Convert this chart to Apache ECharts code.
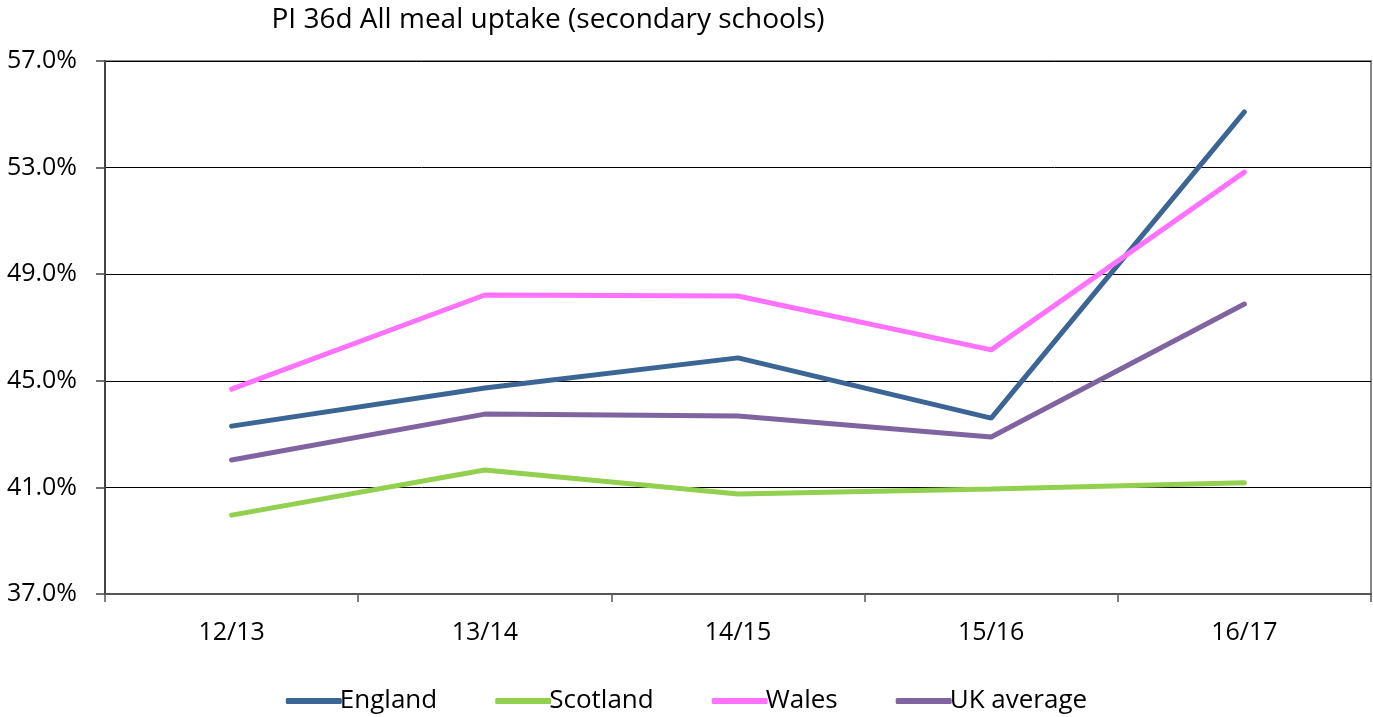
<!DOCTYPE html>
<html><head><meta charset="utf-8">
<script src="https://cdn.jsdelivr.net/npm/echarts@6/dist/echarts.min.js"></script>
<style>html,body{margin:0;padding:0;background:#fff}#c{width:1373px;height:717px}</style>
</head><body><div id="c"></div>
<script>
const categories = ['12/13','13/14','14/15','15/16','16/17'];
const england = [43.3, 44.73, 45.86, 43.6, 55.09];
const scotland = [39.96, 41.65, 40.75, 40.94, 41.17];
const wales = [44.69, 48.22, 48.18, 46.16, 52.83];
const ukAverage = [42.03, 43.75, 43.68, 42.89, 47.88];
const seriesNames = ['England','Scotland','Wales','UK average'];
const colors = ['#3A6595','#92D050','#FF71FF','#8064A2'];
const font = '"Open Sans", "Noto Sans", sans-serif';
const chart = echarts.init(document.getElementById('c'));
const data = [england, scotland, wales, ukAverage];
chart.setOption({
  animation: false,
  title: { text: 'PI 36d All meal uptake (secondary schools)', left: 543, top: 1, textAlign: 'center',
    textStyle: { fontFamily: font, fontSize: 28, fontWeight: 'normal', color: '#000' } },
  legend: { bottom: -2, left: 'center', itemGap: 58, itemWidth: 56, itemHeight: 6,
    icon: 'roundRect',
    textStyle: { fontFamily: font, fontSize: 26, color: '#000', padding: [0,0,0,-7] },
    data: seriesNames },
  grid: { left: 105, right: 2, top: 61, bottom: 123, show: true, borderColor: '#888', borderWidth: 2, backgroundColor: 'transparent' },
  xAxis: { type: 'category', data: categories, boundaryGap: true,
    axisLine: { lineStyle: { color: '#555', width: 2 } },
    axisTick: { show: true, length: 8, lineStyle: { color: '#555', width: 1.5 } },
    axisLabel: { fontFamily: font, fontSize: 25, color: '#000', margin: 26 } },
  yAxis: { type: 'value', min: 37, max: 57, interval: 4,
    axisLine: { show: true, lineStyle: { color: '#444', width: 2 } },
    axisTick: { show: true, length: 9, lineStyle: { color: '#444', width: 1.5 } },
    splitLine: { lineStyle: { color: '#000', width: 1 } },
    axisLabel: { fontFamily: font, fontSize: 25, color: '#000', margin: 28, formatter: v => v.toFixed(1) + '%' } },
  series: seriesNames.map((n, i) => ({
    name: n, type: 'line', data: data[i], symbol: 'none', smooth: false,
    lineStyle: { color: colors[i], width: 5, cap: 'round' }, itemStyle: { color: colors[i] }
  }))
});
</script></body></html>
